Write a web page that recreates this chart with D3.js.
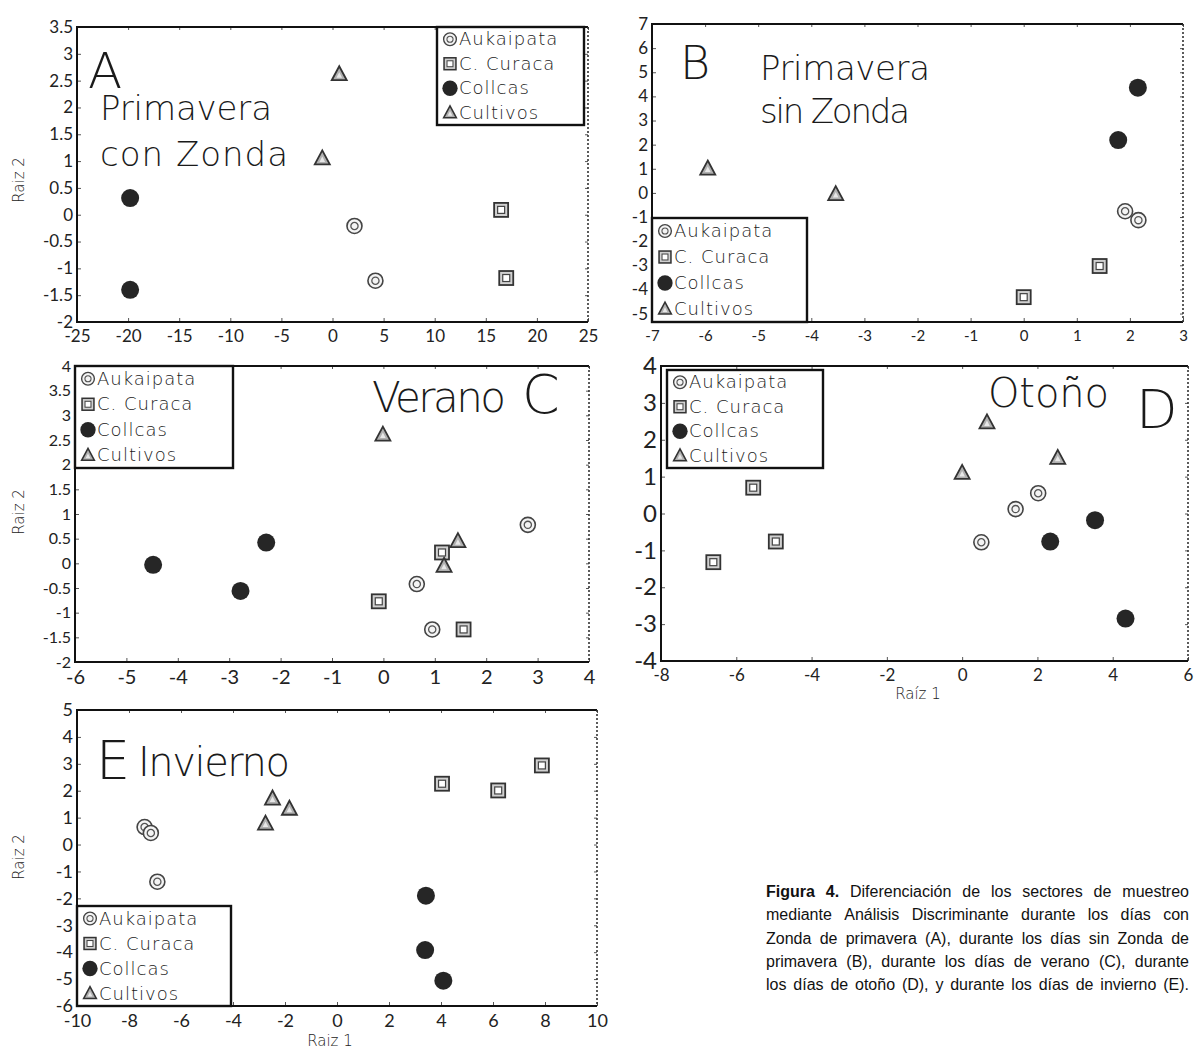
<!DOCTYPE html>
<html>
<head>
<meta charset="utf-8">
<script src="https://cdn.jsdelivr.net/npm/d3@7"></script>
<style>
  body { margin: 0; background: #fff; }
  svg { display: block; }
  .tick-label { font-family: Lato, 'DejaVu Sans', sans-serif; fill: #222; }
  .legend-text { font-family: 'DejaVu Sans', sans-serif; font-weight: 300; font-size: 18px; letter-spacing: 1px; fill: #1a1a1a; }
  .title { font-family: 'DejaVu Sans', sans-serif; font-weight: 300; fill: #1a1a1a; }
  .axis-title { font-family: 'DejaVu Sans', sans-serif; font-weight: 300; font-size: 15px; fill: #222; }
  .caption { font-family: 'Liberation Sans', Arial, sans-serif; font-size: 16px; fill: #111; }
</style>
</head>
<body>
<svg id="chart" width="1196" height="1053"></svg>
<script>
// groups and legend
const groups = ['Aukaipata', 'C. Curaca', 'Collcas', 'Cultivos'];

// points: [group index, raiz 1, raiz 2]
const pointsA = [
  [0, 2.15, -0.21], [0, 4.2, -1.23],
  [1, 16.5, 0.09], [1, 17.0, -1.18],
  [2, -19.8, 0.31], [2, -19.8, -1.4],
  [3, 0.66, 2.62], [3, -1.0, 1.05]
];
const pointsB = [
  [0, 1.91, -0.76], [0, 2.16, -1.13],
  [1, 1.43, -3.03], [1, 0.0, -4.32],
  [2, 2.15, 4.36], [2, 1.78, 2.19],
  [3, -5.95, 1.01], [3, -3.54, -0.05]
];
const pointsC = [
  [0, 2.81, 0.78], [0, 0.65, -0.42], [0, 0.95, -1.34],
  [1, 1.14, 0.22], [1, -0.09, -0.77], [1, 1.56, -1.34],
  [2, -4.48, -0.03], [2, -2.28, 0.42], [2, -2.78, -0.56],
  [3, -0.01, 2.61], [3, 1.45, 0.45], [3, 1.18, -0.05]
];
const pointsD = [
  [0, 2.02, 0.55], [0, 1.42, 0.12], [0, 0.51, -0.78],
  [1, -5.55, 0.7], [1, -4.95, -0.76], [1, -6.61, -1.32],
  [2, 3.53, -0.18], [2, 2.34, -0.76], [2, 4.34, -2.85],
  [3, 0.66, 2.47], [3, 0.0, 1.1], [3, 2.54, 1.51]
];
const pointsE = [
  [0, -7.4, 0.65], [0, -7.16, 0.43], [0, -6.91, -1.38],
  [1, 4.04, 2.26], [1, 6.2, 2.01], [1, 7.88, 2.94],
  [2, 3.42, -1.9], [2, 3.39, -3.92], [2, 4.09, -5.06],
  [3, -2.48, 1.71], [3, -1.83, 1.33], [3, -2.75, 0.78]
];

// tick values
const ticksAx = d3.range(-25, 26, 5), ticksAy = d3.range(-2, 3.51, 0.5);
const ticksBx = d3.range(-7, 4, 1), ticksBy = d3.range(-5, 8, 1);
const ticksCx = d3.range(-6, 5, 1), ticksCy = d3.range(-2, 4.01, 0.5);
const ticksDx = d3.range(-8, 7, 2), ticksDy = d3.range(-4, 5, 1);
const ticksEx = d3.range(-10, 11, 2), ticksEy = d3.range(-6, 6, 1);

const panels = [
  { pts: pointsA, xd: [-25, 25], yd: [-2, 3.5], xt: ticksAx, yt: ticksAy,
    box: [77, 27, 588, 322], xfs: 17, yfs: 17,
    legend: [437, 27, 147, 98], yLabel: 180 },
  { pts: pointsB, xd: [-7, 3], yd: [-5.35, 7], xt: ticksBx, yt: ticksBy,
    box: [652, 24, 1183, 322], xfs: 15, yfs: 17,
    legend: [652, 218, 155, 104] },
  { pts: pointsC, xd: [-6, 4], yd: [-2, 4], xt: ticksCx, yt: ticksCy,
    box: [75, 366, 589, 662], xfs: 20, yfs: 16,
    legend: [75, 366, 158, 102], yLabel: 512 },
  { pts: pointsD, xd: [-8, 6], yd: [-4, 4], xt: ticksDx, yt: ticksDy,
    box: [661, 366, 1188, 661], xfs: 17, yfs: 24,
    legend: [667, 370, 156, 98], xLabel: [918, 699] },
  { pts: pointsE, xd: [-10, 10], yd: [-6, 5], xt: ticksEx, yt: ticksEy,
    box: [77, 710, 597, 1006], xfs: 18, yfs: 18,
    legend: [77, 906, 154, 100], yLabel: 857, xLabel: [330, 1046] }
];

const svg = d3.select('#chart');
const fmt = v => String(Math.round(v * 100) / 100);

function drawMarker(g, k) {
  if (k === 0) {
    g.append('circle').attr('r', 7.5).attr('fill', '#f4f4f4').attr('stroke', '#444').attr('stroke-width', 1.6);
    g.append('circle').attr('r', 3.6).attr('fill', 'none').attr('stroke', '#555').attr('stroke-width', 1.3);
  } else if (k === 1) {
    g.append('rect').attr('x', -7).attr('y', -7).attr('width', 14).attr('height', 14)
      .attr('fill', '#d0d0d0').attr('stroke', '#333').attr('stroke-width', 1.8);
    g.append('rect').attr('x', -3.5).attr('y', -3.5).attr('width', 7).attr('height', 7)
      .attr('fill', '#fff').attr('stroke', '#444').attr('stroke-width', 1.2);
  } else if (k === 2) {
    g.append('circle').attr('r', 9).attr('fill', '#262626');
  } else {
    g.append('path').attr('d', 'M0,-8L7.5,6L-7.5,6Z')
      .attr('fill', '#b0b0b0').attr('stroke', '#333').attr('stroke-width', 1.8);
    g.append('path').attr('d', 'M0,-2L2.8,3.5L-2.8,3.5Z').attr('fill', '#e8e8e8');
  }
}

function drawPanel(p) {
  const [x0, y0, x1, y1] = p.box;
  const x = d3.scaleLinear().domain(p.xd).range([x0, x1]);
  const y = d3.scaleLinear().domain(p.yd).range([y1, y0]);
  const g = svg.append('g');

  // axes (inward ticks, all sides)
  const ax = g.append('g').attr('transform', `translate(0,${y1})`)
    .call(d3.axisBottom(x).tickValues(p.xt).tickSize(-4).tickPadding(8).tickFormat(fmt));
  const ay = g.append('g').attr('transform', `translate(${x0},0)`)
    .call(d3.axisLeft(y).tickValues(p.yt).tickSize(-4).tickPadding(4).tickFormat(fmt));
  g.append('g').attr('transform', `translate(0,${y0})`)
    .call(d3.axisTop(x).tickValues(p.xt).tickSize(-3).tickFormat(''));
  g.append('g').attr('transform', `translate(${x1},0)`)
    .call(d3.axisRight(y).tickValues(p.yt).tickSize(-3).tickFormat(''));
  g.selectAll('.domain').remove();
  g.selectAll('.tick line').attr('stroke', '#555');
  ax.selectAll('text').attr('class', 'tick-label').style('font-size', p.xfs + 'px');
  ay.selectAll('text').attr('class', 'tick-label').style('font-size', p.yfs + 'px');

  // frame: solid left/bottom/top, dotted right
  g.append('path').attr('d', `M${x1},${y0}H${x0}V${y1}H${x1}`)
    .attr('fill', 'none').attr('stroke', '#111').attr('stroke-width', 2);
  g.append('line').attr('x1', x1).attr('x2', x1).attr('y1', y0).attr('y2', y1)
    .attr('stroke', '#333').attr('stroke-width', 1.6).attr('stroke-dasharray', '2,2');

  // points
  g.selectAll('g.pt')
    .data(p.pts)
    .join('g')
    .classed('pt', true)
    .attr('transform', d => `translate(${x(d[1])},${y(d[2])})`)
    .each(function (d) { drawMarker(d3.select(this), d[0]); });

  // legend
  const [lx, ly, lw, lh] = p.legend;
  const lg = g.append('g');
  lg.append('rect').attr('x', lx).attr('y', ly).attr('width', lw).attr('height', lh)
    .attr('fill', '#fff').attr('stroke', '#111').attr('stroke-width', 2.4);
  groups.forEach((name, i) => {
    const cy = ly + lh * (i + 0.5) / 4;
    const m = lg.append('g').attr('transform', `translate(${lx + 13},${cy}) scale(0.85)`);
    drawMarker(m, i);
    lg.append('text').attr('class', 'legend-text').attr('x', lx + 22).attr('y', cy + 6).text(name);
  });

  if (p.yLabel) {
    g.append('text').attr('class', 'axis-title')
      .attr('transform', `translate(24,${p.yLabel}) rotate(-90)`)
      .attr('text-anchor', 'middle').text('Raiz 2');
  }
  if (p.xLabel) {
    g.append('text').attr('class', 'axis-title').attr('x', p.xLabel[0]).attr('y', p.xLabel[1])
      .attr('text-anchor', 'middle').text(p === panels[3] ? 'Raíz 1' : 'Raiz 1');
  }
  return g;
}

panels.forEach(drawPanel);

// panel titles: text, x, baseline, size, width
function title(txt, xp, yp, size, len) {
  const t = svg.append('text').attr('class', 'title').attr('x', xp).attr('y', yp)
    .style('font-size', size + 'px').text(txt);
  if (len) t.attr('textLength', len).attr('lengthAdjust', 'spacing');
}
title('A', 88, 88, 50);
title('Primavera', 100, 120, 34, 172);
title('con Zonda', 100, 166, 34, 188);
title('B', 680, 79, 46);
title('Primavera', 760, 80, 34, 170);
title('sin Zonda', 760, 123, 34, 150);
title('Verano', 372, 412, 42, 134);
title('C', 522, 413, 54);
title('Otoño', 988, 407, 40, 121);
title('D', 1136, 428, 54);
title('E', 96, 779, 54);
title('Invierno', 138, 776, 40, 152);

// caption, justified
const captionLines = [
  [['Figura 4.', true], ['Diferenciación de los sectores de muestreo', false]],
  [['mediante Análisis Discriminante durante los días con', false]],
  [['Zonda de primavera (A), durante los días sin Zonda de', false]],
  [['primavera (B), durante los días de verano (C), durante', false]],
  [['los días de otoño (D), y durante los días de invierno (E).', false]]
];
const capX0 = 766, capX1 = 1189, capY0 = 897, capDy = 23.3;
captionLines.forEach((line, li) => {
  const words = [];
  line.forEach(([txt, bold]) => txt.split(' ').forEach(w => words.push([w, bold])));
  const els = words.map(([w, bold]) => svg.append('text').attr('class', 'caption')
    .attr('y', capY0 + li * capDy).style('font-weight', bold ? 'bold' : 'normal').text(w));
  const widths = els.map(e => e.node().getComputedTextLength());
  const gap = (capX1 - capX0 - d3.sum(widths)) / (els.length - 1);
  let cx = capX0;
  els.forEach((e, i) => { e.attr('x', cx); cx += widths[i] + gap; });
});
</script>
</body>
</html>
